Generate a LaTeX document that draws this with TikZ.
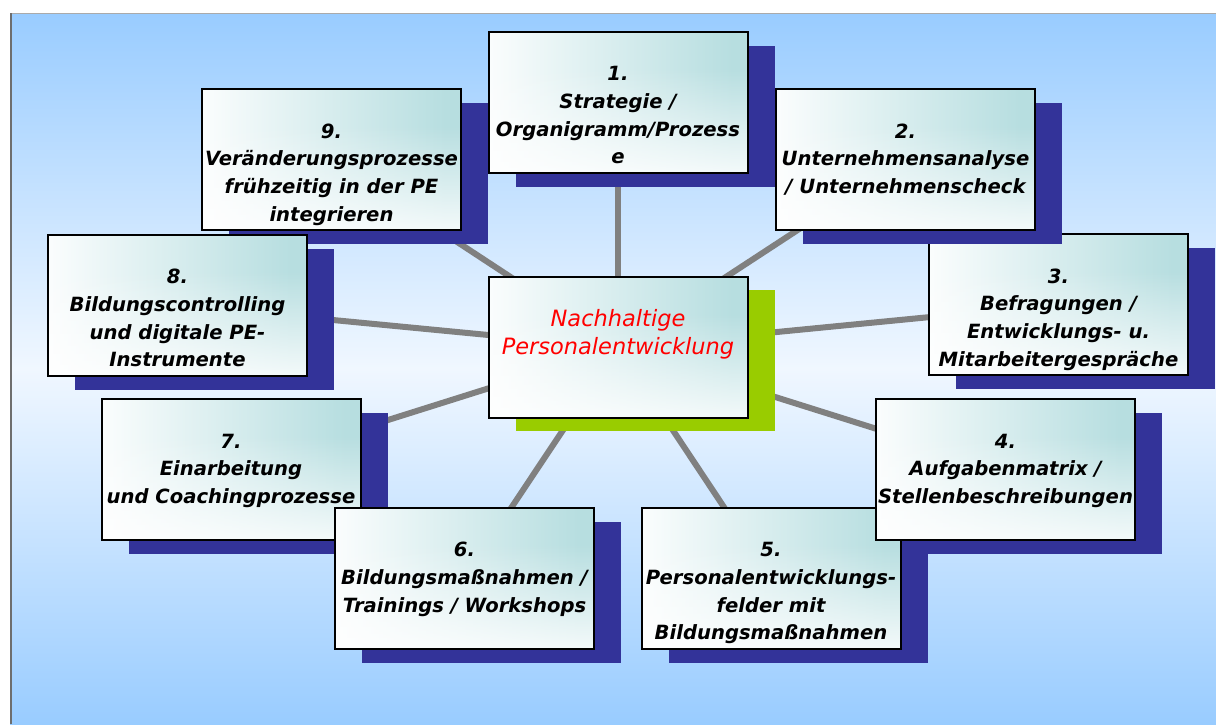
\documentclass[tikz,border=0pt]{standalone}
\usepackage{fontspec}
\setmainfont{DejaVu Sans}
\usetikzlibrary{shadows,fadings}
\definecolor{bgblue}{RGB}{153,204,255}
\definecolor{bgmid}{RGB}{240,247,255}
\definecolor{tealc}{RGB}{183,222,224}
\definecolor{navyc}{RGB}{51,51,153}
\definecolor{limec}{RGB}{153,204,0}
\definecolor{rayc}{RGB}{128,128,128}
\definecolor{topedge}{RGB}{170,170,170}
\definecolor{leftedge}{RGB}{110,110,110}
\pgfdeclareverticalshading{cardfadeshade}{100bp}{color(0bp)=(white); color(18bp)=(white); color(62bp)=(black); color(100bp)=(black)}
\pgfdeclarefading{cardfade}{\pgfuseshading{cardfadeshade}}
\pgfdeclarehorizontalshading{cardhshade}{100bp}{color(0bp)=(white); color(22bp)=(white); color(72bp)=(tealc); color(100bp)=(tealc)}
\pgfdeclarelayer{back}
\pgfdeclarelayer{rays}
\pgfsetlayers{back,rays,main}
\begin{document}
\begin{tikzpicture}[x=1pt,y=-1pt,
  cardbase/.style={draw=black, line width=2pt, minimum width=259pt, minimum height=141pt, inner sep=0pt,
    preaction={shading=cardhshade},
    preaction={fill=white, path fading=cardfade}},
  card/.style={general shadow={fill=navyc, shadow xshift=27pt, shadow yshift=-14pt}, cardbase},
  hubcard/.style={general shadow={fill=limec, shadow xshift=27pt, shadow yshift=-13pt}, cardbase},
  lbl/.style={anchor=north, align=center, inner sep=0pt, text=black,
    font={\fontsize{19.6pt}{27.7pt}\selectfont\bfseries\itshape}},
  hublbl/.style={anchor=north, align=center, inner sep=0pt, text=red,
    font={\fontsize{22.5pt}{28pt}\selectfont\itshape}},
  ray/.style={draw=rayc, line width=6pt}
]
\newcommand{\fl}{\rule{0pt}{20pt}}
\useasboundingbox (0,0) rectangle (1216,724);
\begin{pgfonlayer}{back}
  \shade[top color=bgblue, bottom color=bgblue, middle color=bgmid] (10,13) rectangle (1216,724);
  \draw[topedge, line width=1pt] (10,13.5) -- (1216,13.5);
  \draw[leftedge, line width=2pt] (11,13) -- (11,724);
\end{pgfonlayer}

% boxes in stacking order
\node[card] (b3) at (1058.5,304.5) {};
\node[lbl] (t3) at ([yshift=-30pt]b3.north) {\fl 3.\\Befragungen /\\Entwicklungs- u.\\Mitarbeitergespräche};
\node[card] (b2) at (905.5,159.5) {};
\node[lbl] (t2) at ([yshift=-30pt]b2.north) {\fl 2.\\Unternehmensanalyse\\/ Unternehmenscheck};
\node[card] (b1) at (618,102) {};
\node[lbl] (t1) at ([yshift=-30pt]b1.north) {\fl 1.\\Strategie /\\Organigramm/Prozess\\e};
\node[card] (b9) at (331.5,159.5) {};
\node[lbl] (t9) at ([yshift=-30pt]b9.north) {\fl 9.\\Veränderungsprozesse\\frühzeitig in der PE\\integrieren};
\node[card] (b8) at (177.5,305) {};
\node[lbl] (t8) at ([yshift=-30pt]b8.north) {\fl 8.\\Bildungscontrolling\\und digitale PE-\\Instrumente};
\node[card] (b7) at (231,469.5) {};
\node[lbl] (t7) at ([yshift=-30pt]b7.north) {\fl 7.\\Einarbeitung\\und Coachingprozesse};
\node[card] (b6) at (464.5,578) {};
\node[lbl] (t6) at ([yshift=-30pt]b6.north) {\fl 6.\\Bildungsmaßnahmen /\\Trainings / Workshops};
\node[card] (b5) at (771,578) {};
\node[lbl] (t5) at ([yshift=-30pt]b5.north) {\fl 5.\\Personalentwicklungs-\\felder mit\\Bildungsmaßnahmen};
\node[card] (b4) at (1005.5,469.5) {};
\node[lbl] (t4) at ([yshift=-30pt]b4.north) {\fl 4.\\Aufgabenmatrix /\\Stellenbeschreibungen};
\node[hubcard] (c) at (618,347.5) {};
\node[hublbl] (tc) at ([yshift=-30pt]c.north) {\fl Nachhaltige\\Personalentwicklung};

\begin{pgfonlayer}{rays}
  \foreach \b in {b1,b2,b3,b4,b5,b6,b7,b8,b9}
    \draw[ray] (c.center) -- (\b.center);
\end{pgfonlayer}
\end{tikzpicture}
\end{document}
